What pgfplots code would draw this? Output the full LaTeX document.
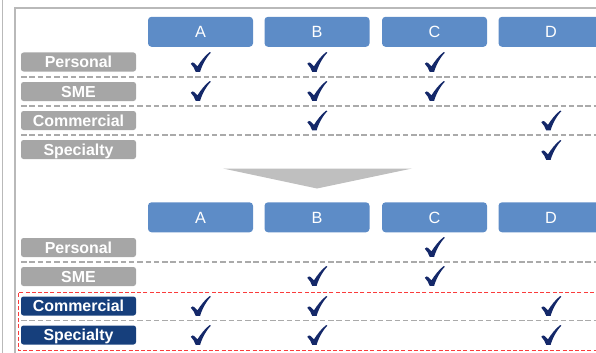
\documentclass[border=0pt]{standalone}
\usepackage{pgfplots}
\usepackage{pgfplotstable}
\pgfplotsset{compat=1.18}
\usepackage{fontspec}
\setmainfont{Liberation Sans}
\definecolor{hdr}{RGB}{93,140,199}
\definecolor{lbl}{RGB}{166,166,166}
\definecolor{navy}{RGB}{22,63,124}
\definecolor{chk}{RGB}{20,40,105}
\definecolor{arrowc}{RGB}{191,191,191}
\definecolor{dashg}{RGB}{170,170,170}
\definecolor{redd}{RGB}{250,60,60}
\definecolor{framec}{RGB}{185,185,185}

\pgfdeclareplotmark{chk}{%
 \pgfpathmoveto{\pgfqpoint{-9.7pt}{-1.8pt}}%
 \pgfpathcurveto{\pgfqpoint{-8.9pt}{-0.3pt}}{\pgfqpoint{-7.4pt}{0.1pt}}{\pgfqpoint{-6.4pt}{-1.0pt}}%
 \pgfpathlineto{\pgfqpoint{-3.0pt}{-4.3pt}}%
 \pgfpathcurveto{\pgfqpoint{0pt}{0.5pt}}{\pgfqpoint{4.5pt}{6.5pt}}{\pgfqpoint{9.3pt}{10pt}}%
 \pgfpathlineto{\pgfqpoint{10.4pt}{9.3pt}}%
 \pgfpathcurveto{\pgfqpoint{6pt}{5pt}}{\pgfqpoint{1.5pt}{-3pt}}{\pgfqpoint{-0.4pt}{-10pt}}%
 \pgfpathlineto{\pgfqpoint{-4.8pt}{-10pt}}%
 \pgfpathcurveto{\pgfqpoint{-5.9pt}{-6.6pt}}{\pgfqpoint{-7.6pt}{-4.0pt}}{\pgfqpoint{-9.7pt}{-1.8pt}}%
 \pgfpathclose
 \pgfusepathqfill
}

\pgfplotstableread{
x y t
200.5 31 A
317 31 B
434.5 31 C
551 31 D
200.5 216.5 A
317 216.5 B
434.5 216.5 C
551 216.5 D
}\headers

\pgfplotstableread{
x y t
78.5 62 Personal
78.5 91.5 SME
78.5 120.5 Commercial
78.5 149.5 Specialty
78.5 247.5 Personal
78.5 276.5 SME
}\graylabels

\pgfplotstableread{
x y t
78.5 306 Commercial
78.5 335 Specialty
}\navylabels

\pgfplotstableread{
x y
200.5 62
317 62
434.5 62
200.5 91
317 91
434.5 91
317 120.5
551 120.5
551 150
}\checkstop

\pgfplotstableread{
x y
434.5 247
317 276
434.5 276
200.5 306
317 306
551 306
200.5 335
317 335
551 335
}\checksbottom

\begin{document}
\begin{tikzpicture}
\begin{axis}[
  name=ax,
  scale only axis, width=596bp, height=353bp,
  xmin=0, xmax=596, ymin=0, ymax=353, y dir=reverse,
  hide axis, clip=false,
  boxlabel/.style={
    draw=none, mark=none, nodes near coords, point meta=explicit symbolic,
    nodes near coords style={anchor=center, inner sep=0pt, text=white}
  },
]
% frames
\addplot[framec, line width=1.6bp] coordinates {(2.5,0) (2.5,353)};
\addplot[framec, line width=2bp] coordinates {(15,353) (15,8.3) (600,8.3)};
% dashed separators
\addplot[dashg, line width=1.1bp, dash pattern=on 5.5bp off 2.8bp] coordinates {(21,77) (600,77)};
\addplot[dashg, line width=1.1bp, dash pattern=on 5.5bp off 2.8bp] coordinates {(21,106) (600,106)};
\addplot[dashg, line width=1.1bp, dash pattern=on 5.5bp off 2.8bp] coordinates {(21,135) (600,135)};
\addplot[dashg, line width=1.1bp, dash pattern=on 5.5bp off 2.8bp] coordinates {(21,262) (600,262)};
\addplot[dashg, line width=1.1bp, dash pattern=on 5.5bp off 2.8bp] coordinates {(21,320.5) (600,320.5)};
% red dashed frame
\addplot[redd, line width=1.4bp, dash pattern=on 4bp off 2.2bp] coordinates {(600,292.3) (18.3,292.3) (18.3,350.5) (600,350.5)};
% arrow
\addplot[fill=arrowc, draw=none] coordinates {(223,168.5) (412,168.5) (317,188.5)} -- cycle;
% header boxes
\addplot[boxlabel, nodes near coords style={fill=hdr, rounded corners=3.5bp,
   minimum width=105bp, minimum height=30bp, text height=11.6bp, text depth=0bp,
   font=\fontsize{16.3}{19}\selectfont, yshift=-0.8bp}] table[x=x, y=y, meta=t] {\headers};
% row labels
\addplot[boxlabel, nodes near coords style={fill=lbl, rounded corners=2.5bp,
   minimum width=115bp, minimum height=19bp, text height=11.2bp, text depth=0bp,
   font=\fontsize{16}{18}\selectfont\bfseries}] table[x=x, y=y, meta=t] {\graylabels};
\addplot[boxlabel, nodes near coords style={fill=navy, rounded corners=2.5bp,
   minimum width=115bp, minimum height=19bp, text height=11.2bp, text depth=0bp,
   font=\fontsize{16}{18}\selectfont\bfseries}] table[x=x, y=y, meta=t] {\navylabels};
% checks
\addplot[only marks, mark=chk, color=chk, mark options={fill=chk, draw=none}] table[x=x, y=y] {\checkstop};
\addplot[only marks, mark=chk, color=chk, mark options={fill=chk, draw=none}] table[x=x, y=y] {\checksbottom};
\end{axis}
\pgfresetboundingbox
\path[use as bounding box] (ax.south west) rectangle (ax.north east);
\end{tikzpicture}
\end{document}
